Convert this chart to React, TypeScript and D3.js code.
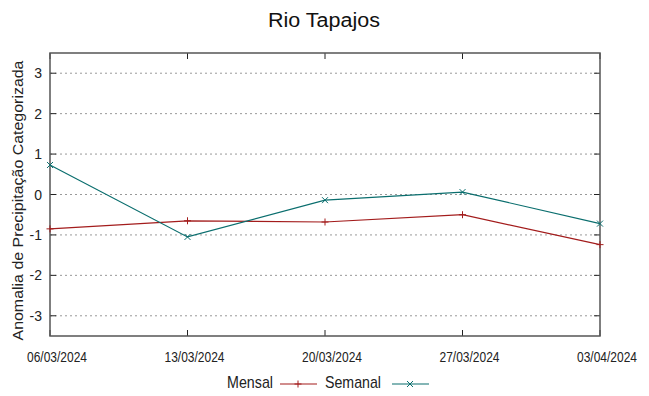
import React from "react";
import * as d3 from "d3";

const dates = ["06/03/2024", "13/03/2024", "20/03/2024", "27/03/2024", "03/04/2024"];
const mensal = [-0.85, -0.65, -0.68, -0.5, -1.24];
const semanal = [0.73, -1.05, -0.14, 0.06, -0.72];
const yTicks = [3, 2, 1, 0, -1, -2, -3];

const W = 649, H = 396;
const L = 50, R = 600, T = 53, B = 336;
const RED = "#a31c1c";
const TEAL = "#0a6e6e";

export default function App() {
  const x = d3.scalePoint<string>().domain(dates).range([L, R]);
  const y = d3.scaleLinear().domain([-3.5, 3.5]).range([B, T]);
  const line = d3.line<number>().x((_, i) => x(dates[i])!).y((v) => y(v));
  const sans = "'Liberation Sans', Arial, sans-serif";
  const plus = (cx: number, cy: number, c: string, k: string) => (
    <g key={k} stroke={c} strokeWidth={1}>
      <line x1={cx - 3.5} x2={cx + 3.5} y1={cy} y2={cy} />
      <line x1={cx} x2={cx} y1={cy - 3.5} y2={cy + 3.5} />
    </g>
  );
  const cross = (cx: number, cy: number, c: string, k: string) => (
    <g key={k} stroke={c} strokeWidth={1}>
      <line x1={cx - 3} x2={cx + 3} y1={cy - 3} y2={cy + 3} />
      <line x1={cx - 3} x2={cx + 3} y1={cy + 3} y2={cy - 3} />
    </g>
  );
  return (
    <svg width={W} height={H} style={{ position: "absolute", left: 0, top: 0, background: "#fff" }}>
      <rect width={W} height={H} fill="#fff" />
      <text x={324} y={27} textAnchor="middle" fontFamily={sans} fontSize={20} textLength={112} lengthAdjust="spacingAndGlyphs" fill="#111">Rio Tapajos</text>
      {yTicks.map((t) => (
        <g key={t}>
          <line x1={L} x2={R} y1={y(t)} y2={y(t)} stroke="#999" strokeWidth={1} strokeDasharray="2,3" />
          <line x1={L} x2={L + 6} y1={y(t)} y2={y(t)} stroke="#222" />
          <line x1={R - 6} x2={R} y1={y(t)} y2={y(t)} stroke="#222" />
          <text x={42} y={y(t) + 5} textAnchor="end" fontFamily={sans} fontSize={14} fill="#222">{t}</text>
        </g>
      ))}
      {dates.map((d) => (
        <g key={d}>
          <line x1={x(d)} x2={x(d)} y1={B} y2={B - 6} stroke="#222" />
          <line x1={x(d)} x2={x(d)} y1={T} y2={T + 6} stroke="#222" />
          <text x={x(d)! + 7} y={362} textAnchor="middle" fontFamily={sans} fontSize={14} textLength={60} lengthAdjust="spacingAndGlyphs" fill="#222">{d}</text>
        </g>
      ))}
      <rect x={L} y={T} width={R - L} height={B - T} fill="none" stroke="#555" strokeWidth={1.5} />
      <text transform={`translate(23,${(T + B) / 2 + 6}) rotate(-90)`} textAnchor="middle" fontFamily={sans} fontSize={15} textLength={280} lengthAdjust="spacingAndGlyphs" fill="#222">Anomalia de Precipitação Categorizada</text>
      <path d={line(mensal)!} fill="none" stroke={RED} strokeWidth={1.2} />
      <path d={line(semanal)!} fill="none" stroke={TEAL} strokeWidth={1.2} />
      {mensal.map((v, i) => plus(x(dates[i])!, y(v), RED, "m" + i))}
      {semanal.map((v, i) => cross(x(dates[i])!, y(v), TEAL, "s" + i))}
      <text x={227} y={388} fontFamily={sans} fontSize={17} textLength={46} lengthAdjust="spacingAndGlyphs" fill="#222">Mensal</text>
      <line x1={280} x2={317} y1={384} y2={384} stroke={RED} strokeWidth={1.2} />
      {plus(298, 384, RED, "lm")}
      <text x={325} y={388} fontFamily={sans} fontSize={17} textLength={56} lengthAdjust="spacingAndGlyphs" fill="#222">Semanal</text>
      <line x1={392} x2={429} y1={384} y2={384} stroke={TEAL} strokeWidth={1.2} />
      {cross(410, 384, TEAL, "ls")}
    </svg>
  );
}
